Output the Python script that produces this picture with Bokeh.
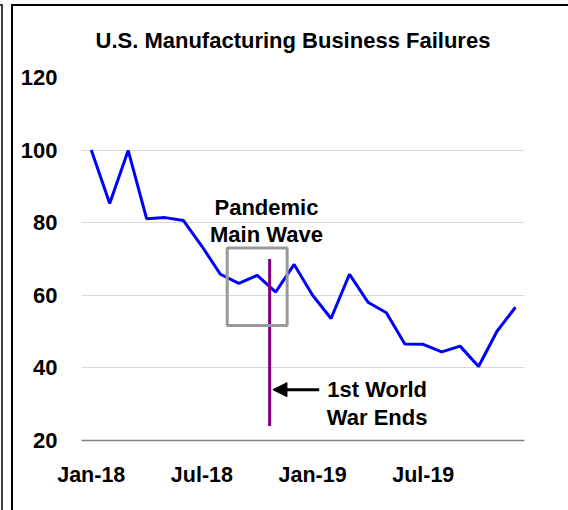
from bokeh.plotting import figure
from bokeh.models import FixedTicker, BoxAnnotation, Arrow, NormalHead, ColumnDataSource, InlineStyleSheet
from bokeh.core.properties import value
from bokeh.embed import file_html
from bokeh.resources import INLINE

# ---- data ----
title_text = "U.S. Manufacturing Business Failures"
month_index = list(range(24))  # Jan-18 .. Dec-19
failures = [100.0, 85.3, 99.9, 81.1, 81.4, 80.6, 73.5, 65.8, 63.3, 65.5, 60.9, 68.5,
            60.0, 53.6, 65.8, 58.1, 55.2, 46.6, 46.5, 44.4, 46.0, 40.4, 50.1, 56.7]
x_tick_pos = [0, 6, 12, 18]
x_tick_labels = ["Jan-18", "Jul-18", "Jan-19", "Jul-19"]
y_ticks = [20, 40, 60, 80, 100, 120]

pandemic_lines = ["Pandemic", "Main Wave"]
war_lines = ["1st World", "War Ends"]

FONT = "Liberation Sans"

border_css = """
:host::before {
  content: ""; position: absolute; left: 0px; top: 4px; width: 1px; bottom: 0px;
  border-right: 2px solid #404040; border-top: 2px solid #404040;
  z-index: 100; pointer-events: none;
}
:host::after {
  content: ""; position: absolute; left: 11px; top: 4px; right: 0px; bottom: 0px;
  border-left: 2px solid #000000; border-top: 2px solid #000000;
  z-index: 100; pointer-events: none;
}
"""

p = figure(width=568, height=510, x_range=(-0.53, 23.49), y_range=(20, 120),
           output_backend="svg", toolbar_location=None,
           min_border_left=81, min_border_right=44, min_border_top=77, min_border_bottom=70,
           stylesheets=[InlineStyleSheet(css=border_css)])
p.outline_line_color = None
p.background_fill_color = "white"
p.border_fill_color = "white"

# title
p.title.text = title_text
p.title.align = "left"
p.title.offset = 14
p.title.standoff = 49
p.title.text_font = FONT
p.title.text_font_style = "bold"
p.title.text_font_size = "22px"
p.title.text_color = "black"

# axes
p.xgrid.grid_line_color = None
p.ygrid.grid_line_color = "#d9d9d9"
p.ygrid.grid_line_width = 1
p.ygrid.ticker = FixedTicker(ticks=y_ticks)

p.yaxis.ticker = FixedTicker(ticks=y_ticks)
p.yaxis.axis_line_color = None
p.yaxis.major_tick_line_color = None
p.yaxis.minor_tick_line_color = None
p.yaxis.major_label_standoff = 18
p.yaxis.major_label_text_font = FONT
p.yaxis.major_label_text_font_style = "bold"
p.yaxis.major_label_text_font_size = "22px"
p.yaxis.major_label_text_color = "black"

p.xaxis.ticker = FixedTicker(ticks=x_tick_pos)
p.xaxis.major_label_overrides = {t: l for t, l in zip(x_tick_pos, x_tick_labels)}
p.xaxis.axis_line_color = "#808080"
p.xaxis.axis_line_width = 1.5
p.xaxis.major_tick_line_color = None
p.xaxis.minor_tick_line_color = None
p.xaxis.major_tick_out = 0
p.xaxis.major_label_standoff = 22
p.xaxis.major_label_text_font = FONT
p.xaxis.major_label_text_font_style = "bold"
p.xaxis.major_label_text_font_size = "21.5px"
p.xaxis.major_label_text_color = "black"

# pandemic box
p.add_layout(BoxAnnotation(left=7.37, right=10.62, bottom=51.7, top=73.0,
                           fill_alpha=0, line_color="#999999", line_alpha=1.0, line_width=3))

# data line
src = ColumnDataSource(dict(x=month_index, y=failures))
p.line("x", "y", source=src, line_color="#0000ff", line_width=3)

# war end line
p.segment(x0=[9.67], y0=[24], x1=[9.67], y1=[70], line_color="#800080", line_width=3)

# arrow
p.add_layout(Arrow(end=NormalHead(size=14, fill_color="black", line_color="black"),
                   x_start=12.36, y_start=34.0, x_end=9.85, y_end=34.0,
                   line_color="black", line_width=3))

# annotation texts
p.text(x=[9.5, 9.5], y=[84.2, 76.7], text=pandemic_lines, text_align="center",
       text_baseline="alphabetic", text_font=value(FONT), text_font_style="bold",
       text_font_size="22px", text_color="black")
p.text(x=[15.5, 15.5], y=[34.0, 26.3], text=war_lines, text_align="center",
       text_baseline="alphabetic", text_font=value(FONT), text_font_style="bold",
       text_font_size="22px", text_color="black")

open("out.html", "w").write(file_html(p, INLINE))
